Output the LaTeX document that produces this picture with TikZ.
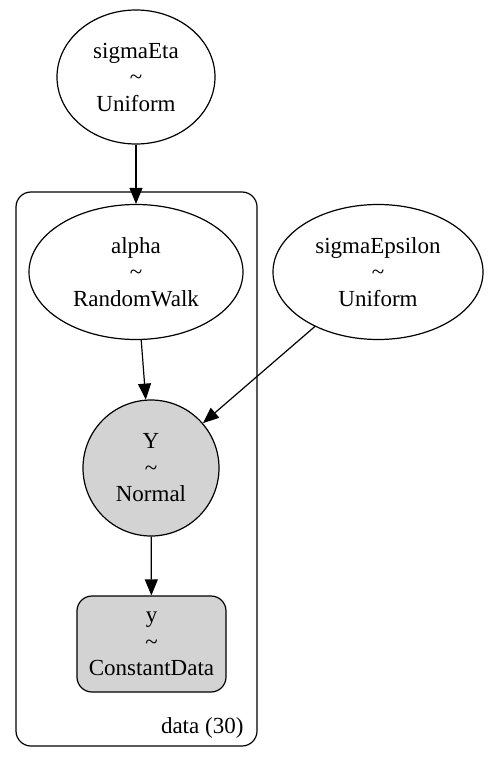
\documentclass[tikz,border=0pt]{standalone}
\usepackage{fontspec}
\setmainfont{Liberation Serif}
\usepackage{tikz}
\usetikzlibrary{shapes.geometric}
\usetikzlibrary{arrows.meta}
\definecolor{obsgray}{HTML}{D3D3D3}

\begin{document}
\begin{tikzpicture}[x=1pt, y=-1pt, line width=1.2pt,
    every node/.style={font=\fontsize{23}{26.5}\selectfont, align=center, inner sep=0pt},
    freevar/.style={draw, ellipse},
    obsvar/.style={draw, circle, fill=obsgray, minimum size=136pt},
    datavar/.style={draw, rectangle, rounded corners=15pt, fill=obsgray, minimum width=149pt, minimum height=96pt},
    edge/.style={-{Triangle[length=16pt, width=13pt]}}]
    \useasboundingbox (0,0) rectangle (494,759);

    % plate
    \node [draw, rectangle, rounded corners=15pt, minimum width=241pt, minimum height=554pt] (dataplate) at (136.5,469) {};
    \node [anchor=south east] (platelabel) at (244,739) {data (30)};

    % random variables
    \node [freevar, minimum width=158pt, minimum height=134pt] (sigmaEta) at (136,77) {sigmaEta\\\textasciitilde\\Uniform};
    \node [freevar, minimum width=214pt, minimum height=135pt] (alpha) at (136,272) {alpha\\\textasciitilde\\RandomWalk};
    \node [freevar, minimum width=210pt, minimum height=135pt] (sigmaEpsilon) at (378,272) {sigmaEpsilon\\\textasciitilde\\Uniform};
    \node [obsvar] (Y) at (151,468) {Y\\\textasciitilde\\Normal};
    \node [datavar] (y) at (151.5,644) {y\\\textasciitilde\\ConstantData};

    % edges
    \draw [edge] (sigmaEta) -- (alpha);
    \draw [edge] (alpha) -- (Y);
    \draw [edge] (sigmaEpsilon) -- (Y);
    \draw [edge] (Y) -- (y);

\end{tikzpicture}
\end{document}
